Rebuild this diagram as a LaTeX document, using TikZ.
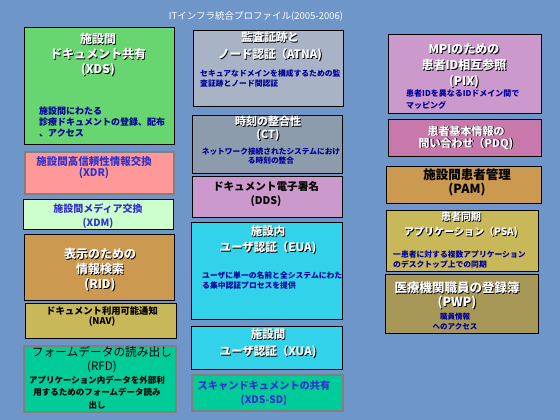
\documentclass[tikz,border=0pt]{standalone}
\usepackage{fontspec}
\setmainfont{Noto Sans CJK JP}
\definecolor{bgblue}{RGB}{110,150,200}
\definecolor{xdsgreen}{RGB}{104,214,112}
\definecolor{xdrpink}{RGB}{255,153,153}
\definecolor{xdmgreen}{RGB}{204,255,204}
\definecolor{ridbrown}{RGB}{204,153,80}
\definecolor{navolive}{RGB}{200,184,90}
\definecolor{rfdteal}{RGB}{0,204,153}
\definecolor{atnagray}{RGB}{168,180,198}
\definecolor{ctgray}{RGB}{140,156,172}
\definecolor{ddspurple}{RGB}{204,153,204}
\definecolor{euacyan}{RGB}{51,210,235}
\definecolor{pdqpink}{RGB}{200,120,170}
\definecolor{pwpolive}{RGB}{168,152,88}
\definecolor{navy}{RGB}{0,0,153}
\definecolor{ttlblue}{RGB}{51,51,204}
\newcommand{\shd}[1]{\makebox[0pt][l]{\hspace{0.9pt}\raisebox{-0.9pt}{\color{black}#1}}{\color{white}#1}}
\begin{document}
\begin{tikzpicture}[x=1pt,y=-1pt,
  box/.style={draw=black, line width=1pt, inner sep=0pt, anchor=north west},
  gbox/.style={draw=gray, line width=2.2pt, inner sep=0pt, anchor=north west},
  ttl/.style={align=center, inner sep=0pt, font=\bfseries\fontsize{12}{15}\selectfont},
  dsc/.style={align=left, inner sep=0pt, text=navy, font=\bfseries\fontsize{7.8}{10}\selectfont}]
\fill[bgblue] (0,0) rectangle (560,420);
\node[text=white, inner sep=0pt, font=\fontsize{9.5}{11}\selectfont] (title) at (256,16) {ITインフラ統合プロファイル(2005-2006)};
% left column
\node[box, fill=xdsgreen, minimum width=150, minimum height=117] (xds) at (24,27) {};
\node[ttl] (xdsT) at (98,55) {\shd{施設間}\\ \shd{ドキュメント共有}\\ \shd{(XDS)}};
\node[dsc, anchor=west, font=\bfseries\fontsize{9}{11}\selectfont] (xdsD) at (39,122) {施設間にわたる\\診療ドキュメントの登録、配布\\、アクセス};
\node[gbox, fill=xdrpink, minimum width=149, minimum height=42] (xdr) at (24,151) {};
\node[ttl, text=ttlblue, font=\bfseries\fontsize{10.5}{11}\selectfont] (xdrT) at (94,167.5) {施設間高信頼性情報交換\\(XDR)};
\node[box, fill=xdmgreen, minimum width=150, minimum height=30] (xdm) at (23,199) {};
\node[ttl, text=ttlblue, font=\bfseries\fontsize{10}{14}\selectfont] (xdmT) at (98,216) {施設間メディア交換\\(XDM)};
\node[box, fill=ridbrown, minimum width=150, minimum height=66] (rid) at (24,234) {};
\node[ttl] (ridT) at (100,270) {\shd{表示のための}\\ \shd{情報検索}\\ \shd{(RID)}};
\node[box, fill=navolive, minimum width=151, minimum height=35] (nav) at (25,303) {};
\node[ttl, font=\bfseries\fontsize{9.3}{10}\selectfont] (navT) at (102,316) {ドキュメント利用可能通知\\(NAV)};
\node[gbox, fill=rfdteal, minimum width=152, minimum height=66] (rfd) at (23,345) {};
\node[ttl, font=\fontsize{11.7}{14}\selectfont] (rfdT) at (102,360) {フォームデータの読み出し\\(RFD)};
\node[ttl, align=center, font=\bfseries\fontsize{8.5}{12.5}\selectfont] (rfdD) at (97,392.5) {アプリケーション内データを外部利\\用するためのフォームデータ読み\\出し};
% middle column
\node[box, fill=atnagray, minimum width=150, minimum height=76] (atna) at (193,30) {};
\node[ttl, font=\bfseries\fontsize{11.5}{17}\selectfont] (atnaT) at (270,46.5) {\shd{監査証跡と}\\ \shd{ノード認証（ATNA)}};
\node[dsc, anchor=west] (atnaD) at (200,78) {セキュアなドメインを構成するための監\\査証跡とノード間認証};
\node[box, fill=ctgray, minimum width=150, minimum height=58] (ct) at (192,115) {};
\node[ttl, font=\bfseries\fontsize{11}{13}\selectfont] (ctT) at (268,128.5) {\shd{時刻の整合性}\\ \shd{(CT)}};
\node[dsc, align=center, font=\bfseries\fontsize{7.7}{9}\selectfont] (ctD) at (271,156.5) {ネットワーク接続されたシステムにおけ\\る時刻の整合};
\node[box, fill=ddspurple, minimum width=150, minimum height=41] (dds) at (192,176) {};
\node[ttl, font=\bfseries\fontsize{10.6}{14}\selectfont] (ddsT) at (266,194) {ドキュメント電子署名\\(DDS)};
\node[box, fill=euacyan, minimum width=151, minimum height=97] (eua) at (191,222) {};
\node[ttl, font=\bfseries\fontsize{11.5}{16}\selectfont] (euaT) at (268,240) {\shd{施設内}\\ \shd{ユーザ認証（EUA)}};
\node[dsc, anchor=west] (euaD) at (202,281) {ユーザに単一の名前と全システムにわた\\る集中認証プロセスを提供};
\node[box, fill=euacyan, minimum width=151, minimum height=43] (xua) at (191,326) {};
\node[ttl, font=\bfseries\fontsize{11.5}{17}\selectfont] (xuaT) at (268,343.5) {\shd{施設間}\\ \shd{ユーザ認証（XUA)}};
\node[gbox, fill=rfdteal, minimum width=151, minimum height=36] (xdssd) at (191,374) {};
\node[ttl, text=ttlblue, font=\bfseries\fontsize{10.2}{14}\selectfont] (xdssdT) at (264,393) {スキャンドキュメントの共有\\(XDS-SD)};
% right column
\node[box, fill=ddspurple, minimum width=153, minimum height=79] (pix) at (388,34) {};
\node[ttl, font=\bfseries\fontsize{12}{16}\selectfont] (pixT) at (464,66) {\shd{MPIのための}\\ \shd{患者ID相互参照}\\ \shd{(PIX)}};
\node[dsc, anchor=west, font=\bfseries\fontsize{8}{12}\selectfont] (pixD) at (406,99) {患者IDを異なるIDドメイン間で\\マッピング};
\node[box, fill=pdqpink, minimum width=153, minimum height=37] (pdq) at (388,119) {};
\node[ttl, font=\bfseries\fontsize{11}{12}\selectfont] (pdqT) at (466,138) {\shd{患者基本情報の}\\ \shd{問い合わせ（PDQ)}};
\node[box, fill=ridbrown, minimum width=155, minimum height=37] (pam) at (386,166) {};
\node[ttl, font=\bfseries\fontsize{12.5}{14}\selectfont] (pamT) at (467,182) {施設間患者管理\\(PAM)};
\node[box, fill=navolive, minimum width=152, minimum height=61] (psa) at (386,210) {};
\node[ttl, font=\bfseries\fontsize{10}{15}\selectfont] (psaT) at (461,225.5) {\shd{患者同期}\\ \shd{アプリケーション（PSA)}};
\node[dsc, anchor=west] (psaD) at (393,260) {一患者に対する複数アプリケーション\\のデスクトップ上での同期};
\node[box, fill=pwpolive, minimum width=153, minimum height=59] (pwp) at (385,274) {};
\node[ttl, font=\bfseries\fontsize{12.5}{12}\selectfont] (pwpT) at (457,296) {\shd{医療機関職員の登録簿}\\ \shd{(PWP)}};
\node[dsc, align=center, font=\bfseries\fontsize{7.5}{10}\selectfont] (pwpD) at (455,321.5) {職員情報\\へのアクセス};
\end{tikzpicture}
\end{document}
